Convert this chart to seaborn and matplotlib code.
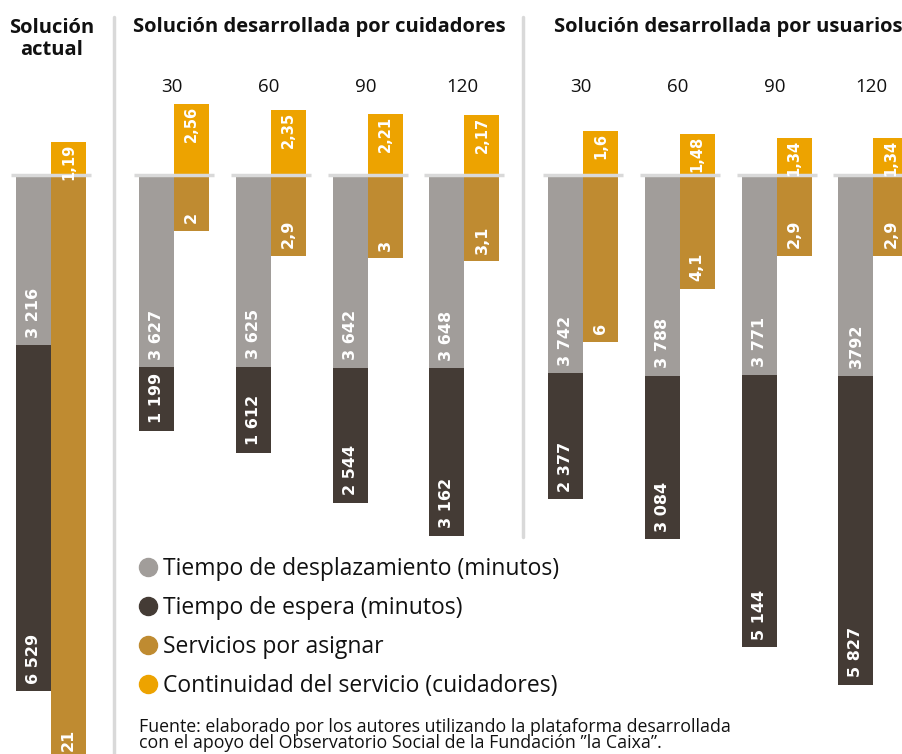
import numpy as np
import pandas as pd
import matplotlib
matplotlib.use("Agg")
import matplotlib.pyplot as plt
from matplotlib.lines import Line2D
import seaborn as sns

# --- data -------------------------------------------------------------
grupos = ["actual", "cuidadores", "cuidadores", "cuidadores", "cuidadores",
          "usuarios", "usuarios", "usuarios", "usuarios"]
umbral = ["", "30", "60", "90", "120", "30", "60", "90", "120"]

desplazamiento = [3216, 3627, 3625, 3642, 3648, 3742, 3788, 3771, 3792]
desplazamiento_txt = ["3 216", "3 627", "3 625", "3 642", "3 648",
                      "3 742", "3 788", "3 771", "3792"]
espera = [6529, 1199, 1612, 2544, 3162, 2377, 3084, 5144, 5827]
espera_txt = ["6 529", "1 199", "1 612", "2 544", "3 162",
              "2 377", "3 084", "5 144", "5 827"]
por_asignar = [21, 2, 2.9, 3, 3.1, 6, 4.1, 2.9, 2.9]
continuidad = [1.19, 2.56, 2.35, 2.21, 2.17, 1.6, 1.48, 1.34, 1.34]

titulos = {"actual": "Solución\nactual",
           "cuidadores": "Solución desarrollada por cuidadores",
           "usuarios": "Solución desarrollada por usuarios"}
leyenda = ["Tiempo de desplazamiento (minutos)", "Tiempo de espera (minutos)",
           "Servicios por asignar", "Continuidad del servicio (cuidadores)"]
fuente = ("Fuente: elaborado por los autores utilizando la plataforma desarrollada\n"
          "con el apoyo del Observatorio Social de la Fundación \u201dla Caixa\u201d.")

GRIS = "#a19d9a"
OSCURO = "#443b35"
OCRE = "#bf8b31"
NARANJA = "#eda300"
LINEA = "#d9d9d9"

# --- layout (pixels) ---------------------------------------------------
W, H = 903, 754
BASE = 175          # baseline, px from top
MIN_PX = 0.053      # px per minute
SERV_PX = 27.8      # px per service unit
BAR_W = 35
STEP = 96.8
GROUP_LEFT = {"actual": 16, "cuidadores": 139, "usuarios": 548}

FONT = ["Open Sans", "DejaVu Sans"]
NUM_FONT = ["DejaVu Sans"]


def fx(x, y):
    return x / W, 1 - y / H


# position of each pair inside its group
idx = []
seen = {}
for g in grupos:
    idx.append(seen.get(g, 0))
    seen[g] = seen.get(g, 0) + 1
x_left = np.array([GROUP_LEFT[g] + i * STEP + BAR_W / 2 for g, i in zip(grupos, idx)])
x_right = x_left + BAR_W

df = pd.DataFrame({
    "x_l": x_left, "x_r": x_right,
    "desp": -np.array(desplazamiento, float),
    "total": -(np.array(desplazamiento, float) + np.array(espera, float)),
    "asig": -np.array(por_asignar, float),
    "cont": np.array(continuidad, float),
})

sns.set_theme(style="white")
plt.rcParams["font.family"] = FONT
plt.rcParams["text.color"] = "#111111"

fig = plt.figure(figsize=(W / 100, H / 100), dpi=100)
ax = fig.add_axes([0, 0, 1, 1])
ax2 = ax.twinx()

wl = BAR_W / np.diff(np.sort(x_left)).min()
wr = BAR_W / np.diff(np.sort(x_right)).min()

# minutes (left bar of each pair): stacked downwards
sns.barplot(data=df, x="x_l", y="total", native_scale=True, orient="x", width=wl,
            color=OSCURO, saturation=1, errorbar=None, linewidth=0, ax=ax)
sns.barplot(data=df, x="x_l", y="desp", native_scale=True, orient="x", width=wl,
            color=GRIS, saturation=1, errorbar=None, linewidth=0, ax=ax)
# services (right bar of each pair)
sns.barplot(data=df, x="x_r", y="asig", native_scale=True, orient="x", width=wr,
            color=OCRE, saturation=1, errorbar=None, linewidth=0, ax=ax2)
sns.barplot(data=df, x="x_r", y="cont", native_scale=True, orient="x", width=wr,
            color=NARANJA, saturation=1, errorbar=None, linewidth=0, ax=ax2)

ax.set_xlim(0, W)
ax2.set_xlim(0, W)
ax.set_ylim(-(H - BASE) / MIN_PX, BASE / MIN_PX)
ax2.set_ylim(-(H - BASE) / SERV_PX, BASE / SERV_PX)
ax.axis("off")
ax2.axis("off")

# value labels
lab = dict(rotation=90, ha="center", color="white", fontweight="bold",
           family=NUM_FONT, textcoords="offset points", annotation_clip=False,
           zorder=6)
pad = 5.5
for i, r in df.iterrows():
    ax.annotate(desplazamiento_txt[i], (r.x_l, r.desp), xytext=(0, pad),
                va="bottom", fontsize=11.5, **lab)
    ax.annotate(espera_txt[i], (r.x_l, r.total), xytext=(0, pad),
                va="bottom", fontsize=11.5, **lab)
    ax2.annotate(f"{por_asignar[i]:g}".replace(".", ","), (r.x_r, r.asig),
                 xytext=(0, pad), va="bottom", fontsize=11.5, **lab)
    ax2.annotate(f"{continuidad[i]:g}".replace(".", ","), (r.x_r, r.cont),
                 xytext=(0, -1.5), va="top", fontsize=10.5, **lab)

# baselines under each pair
ax2.hlines(np.zeros(len(df)), x_left - BAR_W / 2 - 5, x_right + BAR_W / 2 + 5,
           color=LINEA, lw=2.5, zorder=5)

# group separators
ax.axvline(114.5, ymin=0, ymax=1 - 17 / H, color=LINEA, lw=2.5)
ax.axvline(523, ymin=1 - 537 / H, ymax=1 - 17 / H, color=LINEA, lw=2.5)

# group titles and threshold labels
fig.text(*fx(52, 39), titulos["actual"], ha="center", va="center",
         fontsize=14.5, fontweight="bold", linespacing=1.1)
for g, xc in [("cuidadores", 319), ("usuarios", 728)]:
    fig.text(*fx(xc, 27), titulos[g], ha="center", va="center",
             fontsize=14.5, fontweight="bold")
for i in range(len(df)):
    if umbral[i]:
        fig.text((x_left[i] + x_right[i]) / 2 / W - 0.002, 1 - 87 / H, umbral[i],
                 ha="center", va="center", fontsize=13.5)

# legend
handles = [Line2D([], [], marker="o", ls="", markersize=13, color=c)
           for c in [GRIS, OSCURO, OCRE, NARANJA]]
fig.legend(handles, leyenda, loc="upper left", bbox_to_anchor=fx(137, 557),
           frameon=False, fontsize=16.5, handletextpad=0.12, handlelength=1.0,
           labelspacing=0.66, borderaxespad=0, borderpad=0, labelcolor="#111111")

fig.text(*fx(139, 718), fuente, ha="left", va="top", fontsize=12.75, linespacing=0.88)

fig.savefig("out.png", dpi=100)
